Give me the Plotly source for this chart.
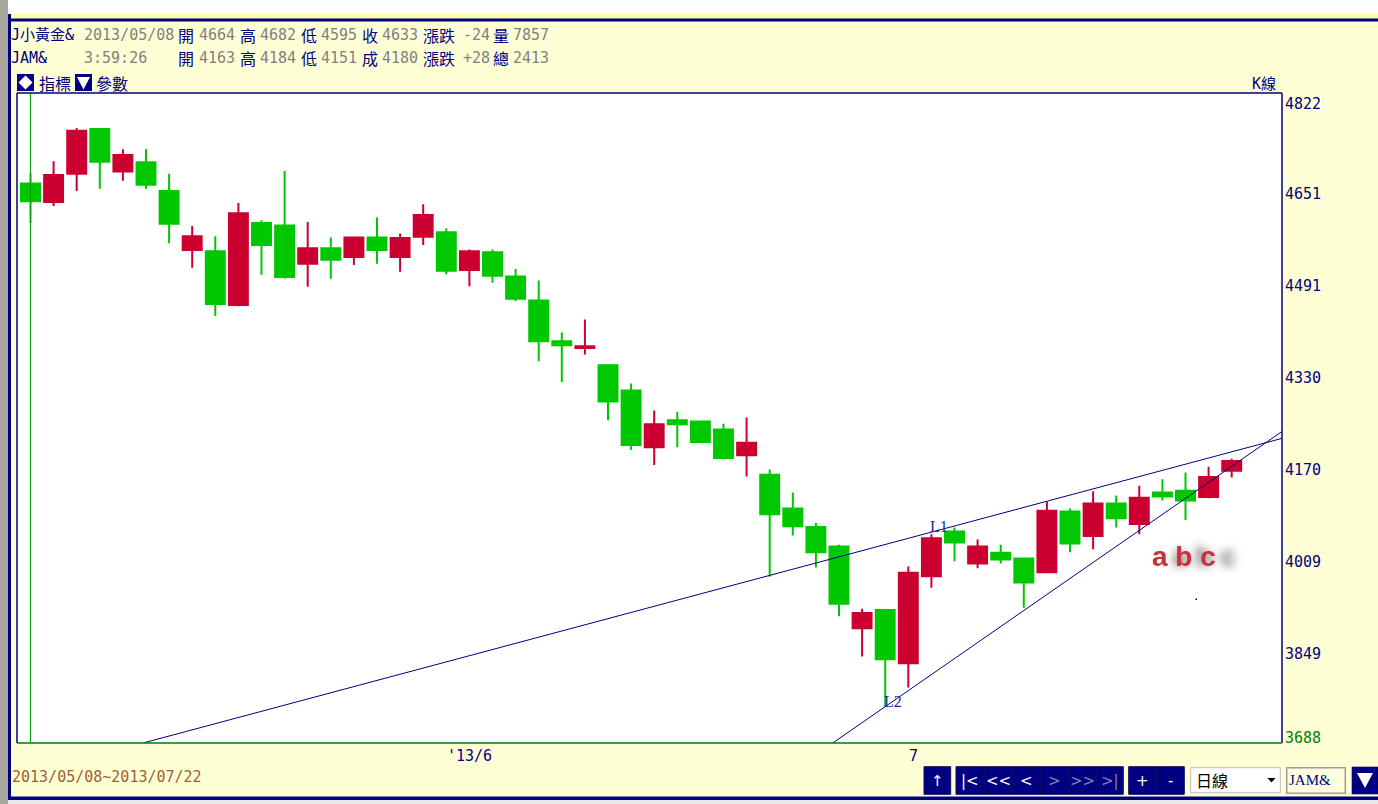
import plotly.graph_objects as go

# ---------------- data ----------------
dates = [
    "2013/05/08", "2013/05/09", "2013/05/10", "2013/05/13", "2013/05/14", "2013/05/15",
    "2013/05/16", "2013/05/17", "2013/05/20", "2013/05/21", "2013/05/22", "2013/05/23",
    "2013/05/24", "2013/05/27", "2013/05/28", "2013/05/29", "2013/05/30", "2013/05/31",
    "2013/06/03", "2013/06/04", "2013/06/05", "2013/06/06", "2013/06/07", "2013/06/10",
    "2013/06/11", "2013/06/12", "2013/06/13", "2013/06/14", "2013/06/17", "2013/06/18",
    "2013/06/19", "2013/06/20", "2013/06/21", "2013/06/24", "2013/06/25", "2013/06/26",
    "2013/06/27", "2013/06/28", "2013/07/01", "2013/07/02", "2013/07/03", "2013/07/04",
    "2013/07/05", "2013/07/08", "2013/07/09", "2013/07/10", "2013/07/11", "2013/07/12",
    "2013/07/16", "2013/07/17", "2013/07/18", "2013/07/19", "2013/07/22",
]
opens = [4664, 4632, 4681, 4759, 4685, 4701, 4651, 4548, 4546, 4452, 4595, 4591,
         4524, 4551, 4536, 4570, 4536, 4571, 4579, 4513, 4544, 4502, 4460, 4389,
         4377, 4347, 4303, 4204, 4251, 4249, 4235, 4190, 4156, 4097, 4065, 4031,
         3888, 3920, 3827, 3979, 4057, 4001, 4020, 4010, 3986, 4092, 4049, 4106,
         4070, 4125, 4128, 4117, 4163]
highs = [4682, 4703, 4761, 4761, 4724, 4724, 4681, 4590, 4572, 4630, 4600, 4686,
         4597, 4570, 4571, 4605, 4577, 4628, 4586, 4549, 4549, 4515, 4495, 4404,
         4427, 4349, 4315, 4268, 4266, 4250, 4245, 4256, 4165, 4125, 4072, 4034,
         3922, 3922, 3996, 4052, 4064, 4043, 4034, 4010, 4109, 4097, 4127, 4120,
         4137, 4148, 4160, 4170, 4184]
lows = [4595, 4625, 4651, 4655, 4669, 4655, 4560, 4517, 4433, 4450, 4505, 4498,
        4484, 4498, 4522, 4524, 4510, 4557, 4506, 4485, 4491, 4459, 4354, 4318,
        4366, 4251, 4199, 4173, 4204, 4212, 4183, 4153, 3978, 4050, 3994, 3909,
        3839, 3751, 3785, 3959, 4005, 3993, 4001, 3924, 3986, 4021, 4026, 4064,
        4052, 4111, 4077, 4115, 4151]
closes = [4633, 4679, 4756, 4702, 4714, 4662, 4594, 4572, 4454, 4612, 4557, 4501,
          4551, 4531, 4570, 4548, 4569, 4609, 4512, 4546, 4503, 4463, 4389, 4382,
          4380, 4284, 4208, 4244, 4244, 4213, 4185, 4212, 4087, 4066, 4021, 3931,
          3915, 3834, 3985, 4045, 4038, 4031, 4008, 3968, 4093, 4036, 4106, 4080,
          4116, 4118, 4111, 4152, 4180]

y_tick_vals = [4822, 4651, 4491, 4330, 4170, 4009, 3849, 3688]
x_tick_dates = ["2013/06/03", "2013/07/01"]
x_tick_text = ["'13/6", "7"]

# trend lines (bar index, price)
l1_x = [4.87, 54.18]
l1_y = [3688, 4219.5]
l2_x = [34.73, 54.18]
l2_y = [3688, 4231.6]
trend_names = ["L1", "L2"]
trend_label_x = [39.33, 37.34]
trend_label_y = [4066, 3761]

symbol_name = "J小黃金&"
symbol_code = "JAM&"
quote_time = "3:59:26"
first_change = -24
first_volume = 7857
total_volume = 2413
period_name = "日線"
chart_name = "K線"
drawn_text = "a b c"

# ---------------- layout constants ----------------
W, H = 1378, 804
PL, PR, PT, PB = 17, 1282, 93, 743
X0, STEP = 30.5, 23.1
NAVY = "#000080"
GREY = "#7f7f7f"
RED = "#CC0030"
GREEN = "#00C800"
BG = "#FFFFD6"
MONO = "DejaVu Sans Mono, Noto Sans CJK TC, monospace"
CJK = "Noto Sans CJK TC, sans-serif"


def px(xp):
    return (xp - PL) / (PR - PL)


def py(yp):
    return (PB - yp) / (PB - PT)


shapes = []
annotations = []


def rect(x0, y0, x1, y1, fill, line=None, lw=0):
    shapes.append(dict(type="rect", xref="paper", yref="paper",
                       x0=px(x0), x1=px(x1), y0=py(y1), y1=py(y0),
                       fillcolor=fill, line=dict(color=line or fill, width=lw),
                       layer="above"))


def path(d_pts, fill):
    d = "M " + " L ".join(f"{px(a):.6f},{py(b):.6f}" for a, b in d_pts) + " Z"
    shapes.append(dict(type="path", xref="paper", yref="paper", path=d,
                       fillcolor=fill, line=dict(color=fill, width=0), layer="above"))


def text(s, xp, yp, color, size=15, family=MONO, anchor="left", **kw):
    annotations.append(dict(text=s, xref="paper", yref="paper", x=px(xp), y=py(yp),
                            xanchor=anchor, yanchor="middle", showarrow=False,
                            borderpad=0, borderwidth=0,
                            font=dict(color=color, size=size, family=family, **kw)))


# ---------------- window frame ----------------
rect(0, 0, 8, H, "#A8A8A0")
rect(8, 0, W, 14, "#FFFFFF")
rect(11, 14, W, 18.5, "#FFFFA8")
rect(11, 18.5, W, 21.5, NAVY)
rect(8, 14, 11, 800, NAVY)
rect(8, 796.5, W, 800, NAVY)
rect(8, 800, W, H, "#E8E8E8")

# ---------------- header ----------------
idx = list(range(len(dates)))
row1 = [(symbol_name, 11, NAVY, MONO, 15), (dates[0], 84, GREY, MONO, 15),
        ("開", 178, NAVY, CJK, 16), (str(opens[0]), 199, GREY, MONO, 15),
        ("高", 240, NAVY, CJK, 16), (str(highs[0]), 260, GREY, MONO, 15),
        ("低", 301, NAVY, CJK, 16), (str(lows[0]), 321, GREY, MONO, 15),
        ("收", 362, NAVY, CJK, 16), (str(closes[0]), 382, GREY, MONO, 15),
        ("漲跌", 423, NAVY, CJK, 16), (f"{first_change:+d}", 463, GREY, MONO, 15),
        ("量", 493, NAVY, CJK, 16), (str(first_volume), 513, GREY, MONO, 15)]
chg = closes[-1] - closes[-2]
row2 = [(symbol_code, 11, NAVY, MONO, 15), (quote_time, 84, GREY, MONO, 15),
        ("開", 178, NAVY, CJK, 16), (str(opens[-1]), 199, GREY, MONO, 15),
        ("高", 240, NAVY, CJK, 16), (str(highs[-1]), 260, GREY, MONO, 15),
        ("低", 301, NAVY, CJK, 16), (str(lows[-1]), 321, GREY, MONO, 15),
        ("成", 362, NAVY, CJK, 16), (str(closes[-1]), 382, GREY, MONO, 15),
        ("漲跌", 423, NAVY, CJK, 16), (f"{chg:+d}", 463, GREY, MONO, 15),
        ("總", 493, NAVY, CJK, 16), (str(total_volume), 513, GREY, MONO, 15)]
for s, xp, c, f, sz in row1:
    text(s, xp, 35, c, sz, f)
for s, xp, c, f, sz in row2:
    text(s, xp, 58, c, sz, f)

# indicator / parameter buttons
rect(17, 74, 34, 91, NAVY)
path([(25.5, 75.5), (32.5, 82.5), (25.5, 89.5), (18.5, 82.5)], "#FFFFFF")
text("指標", 39, 83, NAVY, 16, CJK)
rect(75, 74, 92, 91, NAVY)
path([(77, 77), (90, 77), (83.5, 89.5)], "#FFFFFF")
text("參數", 96, 83, NAVY, 16, CJK)
text(chart_name, 1276, 84, NAVY, 15, MONO, anchor="right")

# ---------------- plot frame ----------------
shapes.append(dict(type="line", xref="x", yref="paper", x0=0, x1=0, y0=0, y1=1,
                   line=dict(color="#00A000", width=1), layer="above"))
for (a, b, c, d, col) in [(0, 1, 1, 1, NAVY), (0, 0, 0, 1, NAVY), (1, 0, 1, 1, NAVY),
                          (0, 0, 1, 0, "#008000")]:
    shapes.append(dict(type="line", xref="paper", yref="paper", x0=a, y0=b, x1=c, y1=d,
                       line=dict(color=col, width=1.5), layer="above"))

# y-axis labels
ymax, ymin = max(y_tick_vals), min(y_tick_vals)
for v in y_tick_vals:
    shift = -11 if v == ymax else (5 if v == ymin else -3)
    annotations.append(dict(text=str(v), xref="paper", yref="y", x=px(1284), y=v,
                            yshift=shift, xanchor="left", yanchor="middle",
                            showarrow=False, borderpad=0,
                            font=dict(color="#008000" if v == ymin else NAVY,
                                      size=15, family=MONO)))

# x-axis labels
for d, t in zip(x_tick_dates, x_tick_text):
    annotations.append(dict(text=t, xref="x", yref="paper", x=dates.index(d), y=py(756),
                            xanchor="left", yanchor="middle", showarrow=False, borderpad=0,
                            font=dict(color=NAVY, size=15, family=MONO)))

# trend line labels
for n, tx, ty in zip(trend_names, trend_label_x, trend_label_y):
    annotations.append(dict(text=n, xref="x", yref="y", x=tx, y=ty, xanchor="center",
                            yanchor="middle", showarrow=False, borderpad=0,
                            font=dict(color="#1a2a9a", size=16, family="Liberation Serif")))

# drawn text object
annotations.append(dict(text=drawn_text, xref="paper", yref="paper", x=px(1151), y=py(556),
                        xanchor="left", yanchor="middle", showarrow=False, borderpad=0,
                        font=dict(color="#C8303C", size=28, family="Liberation Sans",
                                  weight="bold",
                                  shadow="20px 0px 8px rgba(90,90,90,0.9)")))
rect(1195.5, 598.5, 1197, 600, "#000000")

# ---------------- bottom bar ----------------
text(f"{dates[0]}~{dates[-1]}", 12, 777, "#A0602E", 15, MONO)
buttons = [("↑", 924, 950.7, True),
           ("|<", 956, 984.3, True), ("<<", 984.3, 1012.3, True), ("<", 1012.3, 1040.3, True),
           (">", 1040.3, 1068.3, False), (">>", 1068.3, 1096.3, False), (">|", 1096.3, 1123.3, False),
           ("+", 1128.7, 1156.5, True), ("-", 1156.5, 1184.3, True)]
for lab, a, b, en in buttons:
    rect(a, 766.7, b, 794.3, NAVY, "#0c0c5c", 1)
    text(lab, (a + b) / 2, 780.5, "#FFFFFF" if en else "#8484B0", 15,
         "DejaVu Sans, Liberation Mono", anchor="center")
rect(1190.7, 767.7, 1280.3, 792.7, "#FFFFFF", "#BDBDBD", 1)
text(period_name, 1196, 780, "#000000", 16, CJK)
path([(1267.5, 778), (1275.5, 778), (1271.5, 782.5)], "#000000")
rect(1286.7, 767.7, 1345.3, 793.3, "#FFFFE0", "#9C9C9C", 1.5)
text(symbol_code, 1289, 780, NAVY, 15, "Liberation Serif")
rect(1351.7, 766.7, 1378, 794.3, NAVY)
path([(1357, 773), (1373, 773), (1365, 788)], "#FFFFFF")

# ---------------- traces ----------------
fig = go.Figure()
fig.add_trace(go.Candlestick(
    x=idx, open=opens, high=highs, low=lows, close=closes, text=dates,
    increasing=dict(line=dict(color=RED, width=2), fillcolor=RED),
    decreasing=dict(line=dict(color=GREEN, width=2), fillcolor=GREEN),
    whiskerwidth=0, showlegend=False, name=symbol_code))
for lx, ly, n in [(l1_x, l1_y, "L1"), (l2_x, l2_y, "L2")]:
    fig.add_trace(go.Scatter(x=lx, y=ly, mode="lines", name=n, showlegend=False,
                             line=dict(color=NAVY, width=1), hoverinfo="skip"))

fig.update_layout(
    width=W, height=H, autosize=False,
    margin=dict(l=PL, r=W - PR, t=PT, b=H - PB, pad=0),
    paper_bgcolor=BG, plot_bgcolor="#FFFFFF",
    boxgap=0.18, boxgroupgap=0,
    shapes=shapes, annotations=annotations, showlegend=False,
    xaxis=dict(range=[(PL - X0) / STEP, (PR - X0) / STEP], showgrid=False,
               showticklabels=False, zeroline=False, showline=False, ticks="",
               rangeslider=dict(visible=False), fixedrange=True),
    yaxis=dict(range=[min(y_tick_vals), max(y_tick_vals)], showgrid=False,
               showticklabels=False, zeroline=False, showline=False, ticks="",
               fixedrange=True),
)

fig.write_html("out.html", config={"displayModeBar": False},
               post_script="document.body.style.margin='0';document.body.style.overflow='hidden';")
